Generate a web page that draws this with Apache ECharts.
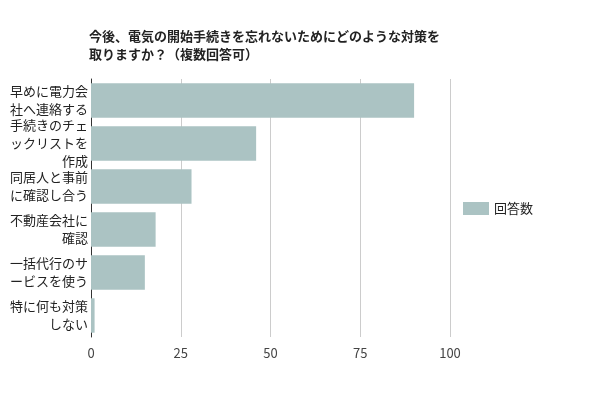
<!DOCTYPE html>
<html><head><meta charset="utf-8">
<script src="https://cdn.jsdelivr.net/npm/echarts@6/dist/echarts.min.js"></script>
<style>html,body{margin:0;padding:0;background:#fff}#c{width:600px;height:400px}</style>
</head><body><div id="c"></div>
<script>
var categories = ['早めに電力会社へ連絡する','手続きのチェックリストを作成','同居人と事前に確認し合う','不動産会社に確認','一括代行のサービスを使う','特に何も対策しない'];
var values = [90, 46, 28, 18, 15, 1];
var seriesName = '回答数';
var titleText = '今後、電気の開始手続きを忘れないためにどのような対策を\n取りますか？（複数回答可）';
var xTicks = [0, 25, 50, 75, 100];

function wrap(s){var out=[];for(var i=0;i<s.length;i+=6){out.push(s.slice(i,i+6));}return out.join('\n');}
var chart = echarts.init(document.getElementById('c'), null, {renderer:'canvas'});
chart.setOption({
  animation:false,
  title:{text:titleText,left:84,top:22,textStyle:{fontSize:13,fontWeight:'bold',color:'#222',lineHeight:18,fontFamily:'"Noto Sans CJK JP", sans-serif'}},
  legend:{data:[seriesName],orient:'vertical',left:463,top:202,padding:0,icon:'rect',itemWidth:26,itemHeight:13,itemGap:6,textStyle:{fontSize:13,color:'#222',fontFamily:'"Noto Sans CJK JP", sans-serif'}},
  grid:{left:91,right:150,top:79,bottom:63,containLabel:false},
  xAxis:{type:'value',min:xTicks[0],max:xTicks[xTicks.length-1],interval:25,
    axisLine:{show:false},axisTick:{show:false},
    splitLine:{lineStyle:{color:'#cccccc',width:1}},
    axisLabel:{fontSize:13,color:'#444',margin:10,fontFamily:'"Noto Sans CJK JP", sans-serif'}},
  yAxis:{type:'category',data:categories,inverse:true,
    axisLine:{show:true,lineStyle:{color:'#333',width:1}},axisTick:{show:false},
    axisLabel:{interval:0,fontSize:13,color:'#222',margin:3,lineHeight:18,formatter:wrap,fontFamily:'"Noto Sans CJK JP", sans-serif'}},
  series:[{name:seriesName,type:'bar',data:values,barCategoryGap:'20%',itemStyle:{color:'#abc3c3'}}]
});
</script></body></html>
